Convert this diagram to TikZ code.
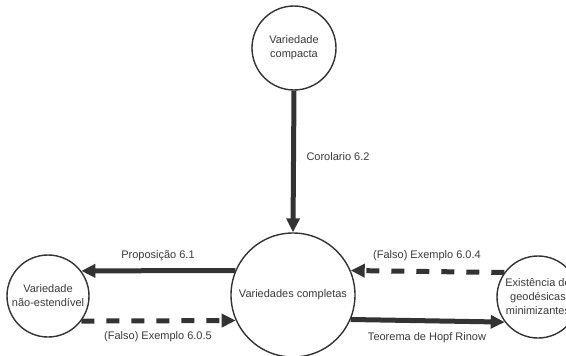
\documentclass[tikz,border=0pt]{standalone}
\usepackage{fontspec}
\setmainfont{Liberation Sans}
\usetikzlibrary{arrows.meta}
\definecolor{ink}{HTML}{333333}
\definecolor{txt}{HTML}{3A3A3A}
\begin{document}
\begin{tikzpicture}[x=1pt,y=-1pt,
  state/.style={circle,draw=ink,line width=1.4pt,fill=white,inner sep=0pt,
    align=center,text=txt,font=\fontsize{11}{14}\selectfont},
  conn/.style={draw=ink,line width=5pt,-{Triangle[length=14pt,width=13pt]}},
  falseconn/.style={conn,dash pattern=on 13pt off 12pt},
  lbl/.style={text=txt,font=\fontsize{11}{13}\selectfont,inner sep=0pt}]
\useasboundingbox (0,0) rectangle (566,356);
\fill[white] (0,0) rectangle (566,356);
\node[state,minimum size=84pt] (top) at (294,48) {Variedade\\compacta};
\node[state,minimum size=124pt] (mid) at (293,295) {Variedades completas};
\node[state,minimum size=82pt] (left) at (48,296) {Variedade\\não-estendível};
\node[state,minimum size=82pt] (right) at (538,297) {Existência de\\geodésicas\\minimizantes};
\path[conn] (top.south) -- (mid.north);
\path[conn] (mid.157) -- (left.37);
\path[falseconn] (left.-37) -- (mid.-156);
\path[falseconn] (right.144) -- (mid.23);
\path[conn] (mid.-23) -- (right.-143);
\node[lbl] (c62) at (338,157) {Corolario 6.2};
\node[lbl] (p61) at (158,256) {Proposição 6.1};
\node[lbl] (e605) at (158,337) {(Falso) Exemplo 6.0.5};
\node[lbl] (e604) at (427,256) {(Falso) Exemplo 6.0.4};
\node[lbl] (hr) at (427,338) {Teorema de Hopf Rinow};
\end{tikzpicture}
\end{document}
